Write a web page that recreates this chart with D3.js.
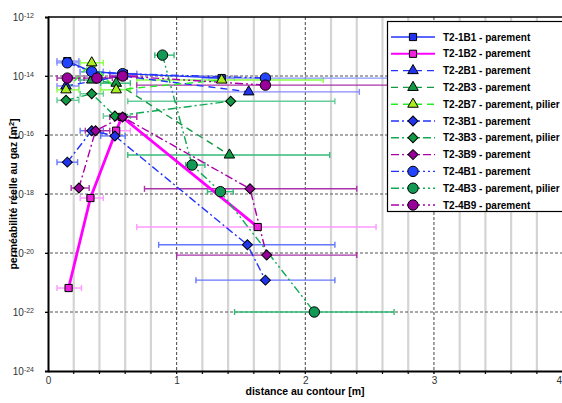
<!DOCTYPE html>
<html>
<head>
<meta charset="utf-8">
<script src="https://d3js.org/d3.v7.min.js"></script>
<style>
  body { margin: 0; background: #fff; }
  text { font-family: "Liberation Sans", Arial, sans-serif; }
</style>
</head>
<body>
<svg width="562" height="403"></svg>
<script>
// series names (legend order)
const names = ["T2-1B1 - parement", "T2-1B2 - parement", "T2-2B1 - parement", "T2-2B3 - parement",
  "T2-2B7 - parement, pilier", "T2-3B1 - parement", "T2-3B3 - parement, pilier", "T2-3B9 - parement",
  "T2-4B1 - parement", "T2-4B3 - parement, pilier", "T2-4B9 - parement"];

// distance au contour [m]
const dist = [
  [0.15, 0.34, 0.59, 1.35],
  [0.16, 0.33, 0.53, 0.575, 1.63],
  [0.14, 0.58, 1.56],
  [0.34, 0.53, 1.41],
  [0.14, 0.34, 0.53, 1.35],
  [0.15, 0.34, 0.52, 1.55, 1.69],
  [0.14, 0.34, 0.52, 1.42],
  [0.24, 0.37, 0.58, 1.57, 1.70],
  [0.15, 0.34, 0.58, 1.69],
  [0.89, 1.12, 1.34, 2.07],
  [0.15, 0.38, 0.58, 1.69]
];
// perméabilité [m2]
const perm = [
  [3.2e-14, 1.4e-14, 1.2e-14, 8.5e-15],
  [6.5e-22, 7.3e-19, 1.4e-16, 4.1e-16, 7.6e-20],
  [4.6e-15, 1.0e-14, 2.9e-15],
  [7.3e-15, 5.7e-15, 2.1e-17],
  [3.4e-15, 2.8e-14, 3.4e-15, 7.3e-15],
  [1.2e-17, 1.4e-16, 9.3e-17, 1.9e-20, 1.2e-21],
  [1.5e-15, 2.5e-15, 4.4e-16, 1.4e-15],
  [1.6e-18, 1.4e-16, 4.1e-16, 1.5e-18, 8.5e-21],
  [2.8e-14, 1.4e-14, 1.2e-14, 8.5e-15],
  [5.1e-14, 9.6e-18, 1.2e-18, 1.0e-22],
  [8.5e-15, 8.5e-15, 1.0e-14, 4.9e-15]
];
// error bar ends (distance, m)
const errLo = [
  [0.07, 0.25, 0.48, 1.25],
  [0.07, 0.25, 0.41, 0.48, 0.69],
  [0.07, 0.48, 0.69],
  [0.25, 0.41, 0.62],
  [0.07, 0.25, 0.41, 0.69],
  [0.07, 0.25, 0.41, 0.86, 1.15],
  [0.07, 0.25, 0.43, 0.62],
  [0.18, 0.29, 0.48, 0.75, 1.0],
  [0.07, 0.25, 0.48, 1.2],
  [0.83, 1.07, 1.24, 1.45],
  [0.07, 0.28, 0.48, 0.69]
];
const errHi = [
  [0.24, 0.43, 0.69, 1.45],
  [0.26, 0.43, 0.64, 0.69, 2.55],
  [0.24, 0.69, 2.42],
  [0.43, 0.64, 2.19],
  [0.24, 0.43, 0.64, 2.14],
  [0.23, 0.43, 0.6, 2.23, 2.23],
  [0.24, 0.43, 0.64, 2.23],
  [0.32, 0.48, 0.69, 2.40, 2.40],
  [0.24, 0.43, 0.69, 3.3],
  [0.98, 1.22, 1.44, 2.69],
  [0.24, 0.5, 0.69, 3.3]
];

const lineCol = ["#2233ff", "#ff00ff", "#2233ff", "#119944", "#22ee22", "#2233ff", "#11aa55", "#aa00aa", "#2233ff", "#11aa55", "#aa00aa"];
const fillCol = ["#2233ee", "#ee22dd", "#2233ee", "#119944", "#aaee22", "#2233ee", "#119944", "#990099", "#2244ff", "#119955", "#990099"];
const barCol = ["#8888ff", "#ff99ff", "#8888ff", "#33bb77", "#88ff44", "#6677ff", "#66cc99", "#aa33aa", "#8899ff", "#33bb77", "#aa33aa"];
const shapes = ["square", "square", "triangle", "triangle", "triangle", "diamond", "diamond", "diamond", "circle", "circle", "circle"];
const dashes = [null, null, "7,5", "7,5", "7,5", "8,3,2,3", "8,3,2,3", "8,3,2,3", "8,3,2,3,2,3", "8,3,2,3,2,3", "8,3,2,3,2,3"];

const svg = d3.select("svg");
const x = d3.scaleLinear().domain([0, 4]).range([48, 562.6]);
const y = d3.scaleLog().domain([1e-24, 1e-12]).range([371, 17]);
const yTicks = [1e-24, 1e-22, 1e-20, 1e-18, 1e-16, 1e-14, 1e-12];

// grid
const minor = d3.range(1, 20).map(i => i * 0.2).filter(v => Math.abs(v - Math.round(v)) > 0.01);
svg.append("g").selectAll("line").data(minor).join("line")
  .attr("x1", d => x(d)).attr("x2", d => x(d)).attr("y1", 17).attr("y2", 374)
  .attr("stroke", "#d4d4d4").attr("stroke-width", 2.2);
svg.append("g").selectAll("line").data([1, 2, 3]).join("line")
  .attr("x1", d => x(d)).attr("x2", d => x(d)).attr("y1", 17).attr("y2", 374)
  .attr("stroke", "#444").attr("stroke-width", 1).attr("stroke-dasharray", "3,2");
svg.append("g").selectAll("line").data(yTicks.slice(1, 6)).join("line")
  .attr("x1", 45).attr("x2", 562).attr("y1", d => y(d)).attr("y2", d => y(d))
  .attr("stroke", "#555").attr("stroke-width", 1).attr("stroke-dasharray", "3,2");
svg.append("line").attr("x1", 48).attr("x2", 562).attr("y1", 17).attr("y2", 17)
  .attr("stroke", "#000").attr("stroke-width", 1.5);

// axes
const xAxis = svg.append("g").attr("transform", "translate(0,371)")
  .call(d3.axisBottom(x).tickValues([0, 1, 2, 3, 4]).tickSize(0).tickPadding(6).tickFormat(d3.format("d")));
xAxis.select(".domain").attr("stroke", "#000").attr("stroke-width", 2);
xAxis.selectAll("text").attr("font-size", 10).attr("fill", "#333")
  .attr("text-anchor", d => d === 4 ? "end" : "middle").attr("dx", d => d === 4 ? "-1" : null);
svg.append("g").selectAll("line").data(minor.concat([1, 2, 3])).join("line")
  .attr("x1", d => x(d)).attr("x2", d => x(d)).attr("y1", 371).attr("y2", 374).attr("stroke", "#000");

const yAxis = svg.append("g").attr("transform", "translate(48,0)")
  .call(d3.axisLeft(y).tickValues(yTicks).tickSize(3).tickPadding(5).tickFormat(""));
yAxis.select(".domain").attr("stroke", "#000").attr("stroke-width", 2);
yAxis.selectAll(".tick").each(function(d) {
  const t = d3.select(this).append("text").attr("x", -14).attr("dy", "0.35em")
    .attr("text-anchor", "end").attr("font-size", 10).attr("fill", "#333");
  t.append("tspan").text("10");
  t.append("tspan").attr("dy", "-0.5em").attr("font-size", 7).text(Math.round(Math.log10(d)));
});

svg.append("text").attr("x", 305).attr("y", 395).attr("text-anchor", "middle")
  .attr("font-size", 10.5).attr("font-weight", "bold").text("distance au contour [m]");
const yl = svg.append("text").attr("transform", "translate(17,194) rotate(-90)").attr("text-anchor", "middle")
  .attr("font-size", 10.5).attr("font-weight", "bold");
yl.append("tspan").text("perméabilité réelle au gaz [m");
yl.append("tspan").attr("dy", "-0.4em").attr("font-size", 7.5).text("2");
yl.append("tspan").attr("dy", "0.4em").text("]");

function sym(s) {
  if (s === "square") return d3.symbol(d3.symbolSquare, 52)();
  if (s === "triangle") return d3.symbol(d3.symbolTriangle, 48)();
  if (s === "diamond") return d3.symbol(d3.symbolSquare, 50)();
  return d3.symbol(d3.symbolCircle, 85)();
}

const plot = svg.append("g");
// error bars
names.forEach((n, i) => {
  dist[i].forEach((d, j) => {
    const yy = y(perm[i][j]);
    const g = plot.append("g").attr("stroke", barCol[i]).attr("stroke-width", 1.4);
    g.append("line").attr("x1", x(errLo[i][j])).attr("x2", x(errHi[i][j])).attr("y1", yy).attr("y2", yy);
    [errLo[i][j], errHi[i][j]].forEach(e => g.append("line")
      .attr("x1", x(e)).attr("x2", x(e)).attr("y1", yy - 3).attr("y2", yy + 3));
  });
});
// lines
const line = d3.line().x(p => x(p[0])).y(p => y(p[1]));
names.forEach((n, i) => {
  plot.append("path").datum(d3.zip(dist[i], perm[i])).attr("d", line)
    .attr("fill", "none").attr("stroke", lineCol[i]).attr("stroke-width", i === 1 ? 2.8 : 1.4)
    .attr("stroke-dasharray", dashes[i]);
});
// markers
names.forEach((n, i) => {
  plot.append("g").selectAll("path").data(d3.zip(dist[i], perm[i])).join("path")
    .attr("d", sym(shapes[i]))
    .attr("transform", p => `translate(${x(p[0])},${y(p[1])})` + (shapes[i] === "diamond" ? " rotate(45)" : ""))
    .attr("fill", fillCol[i]).attr("stroke", "#000").attr("stroke-width", 1);
});

// legend
const lg = svg.append("g");
lg.append("rect").attr("x", 387.5).attr("y", 21.5).attr("width", 190).attr("height", 190)
  .attr("fill", "#fff").attr("stroke", "#000").attr("stroke-width", 1.2);
names.forEach((n, i) => {
  const yy = 37 + i * 16.8;
  lg.append("line").attr("x1", 391).attr("x2", 435).attr("y1", yy).attr("y2", yy)
    .attr("stroke", lineCol[i]).attr("stroke-width", i === 1 ? 2 : 1.4).attr("stroke-dasharray", dashes[i]);
  lg.append("path").attr("d", sym(shapes[i]))
    .attr("transform", `translate(413,${yy})` + (shapes[i] === "diamond" ? " rotate(45)" : ""))
    .attr("fill", fillCol[i]).attr("stroke", "#000").attr("stroke-width", 1);
  lg.append("text").attr("x", 443).attr("y", yy).attr("dy", "0.35em")
    .attr("font-size", 10).attr("font-weight", "bold").text(n);
});
</script>
</body>
</html>
